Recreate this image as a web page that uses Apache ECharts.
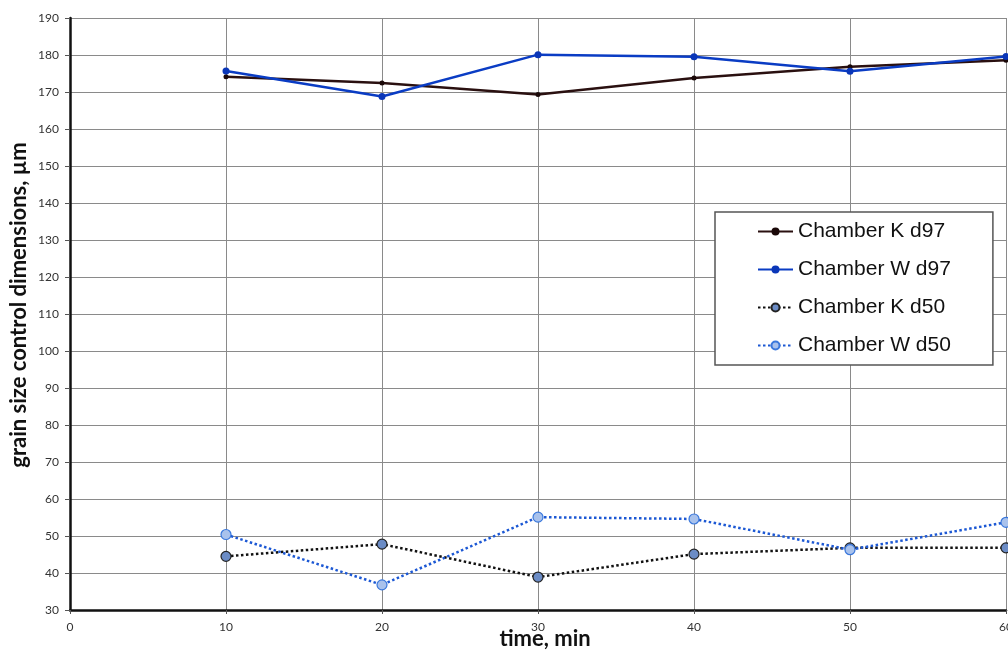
<!DOCTYPE html>
<html>
<head>
<meta charset="utf-8">
<script src="https://cdn.jsdelivr.net/npm/echarts@6/dist/echarts.min.js"></script>
<style>
  html, body { margin: 0; padding: 0; background: #fff; }
  #chart { width: 1008px; height: 650px; }
</style>
</head>
<body>
<div id="chart"></div>
<script>
// time points, min
var times = [10, 20, 30, 40, 50, 60];

// grain size values, µm
var chamberKd97 = [174.1, 172.4, 169.3, 173.8, 176.8, 178.6];
var chamberWd97 = [175.7, 168.8, 180.1, 179.5, 175.6, 179.6];
var chamberKd50 = [44.5, 47.8, 38.9, 45.1, 46.8, 46.8];
var chamberWd50 = [50.4, 36.8, 55.1, 54.6, 46.3, 53.7];

function pairs(vals) {
    return times.map(function (t, i) { return [t, vals[i]]; });
}

var myChart = echarts.init(document.getElementById('chart'));
var labelFont = 'Lato';

var chartOption = {
    animation: false,
    backgroundColor: '#fff',
    grid: {
        left: 70,
        right: 2,
        top: 18,
        bottom: 40,
        containLabel: false,
        outerBoundsMode: 'none'
    },
    legend: {
        orient: 'vertical',
        left: 715,
        top: 212,
        padding: [9, 42, 9, 42],
        itemGap: 17,
        itemWidth: 35,
        itemHeight: 10,
        backgroundColor: '#fff',
        borderColor: '#555',
        borderWidth: 1.5,
        textStyle: {
            fontFamily: 'Liberation Sans',
            fontSize: 21,
            color: '#111'
        },
        data: ['Chamber K d97', 'Chamber W d97', 'Chamber K d50', 'Chamber W d50']
    },
    xAxis: {
        type: 'value',
        min: 0,
        max: 60,
        interval: 10,
        name: 'time, min',
        nameLocation: 'middle',
        nameGap: 18,
        nameMoveOverlap: false,
        nameTextStyle: {
            fontFamily: labelFont,
            fontWeight: 'bold',
            fontSize: 22,
            color: '#111',
            padding: [0, 0, 0, 14]
        },
        axisLine: { lineStyle: { color: '#111', width: 2.5 } },
        axisTick: { show: true, length: 4, lineStyle: { color: '#555' } },
        axisLabel: { fontFamily: labelFont, fontSize: 12, color: '#333', margin: 11 },
        splitLine: { show: true, lineStyle: { color: '#8a8a8a', width: 1 } }
    },
    yAxis: {
        type: 'value',
        min: 30,
        max: 190,
        interval: 10,
        name: 'grain size control dimensions, µm',
        nameLocation: 'middle',
        nameGap: 40,
        nameMoveOverlap: false,
        nameTextStyle: {
            fontFamily: labelFont,
            fontWeight: 'bold',
            fontSize: 22,
            color: '#111',
            padding: [0, 0, 0, 18]
        },
        axisLine: { show: true, lineStyle: { color: '#111', width: 2.5 } },
        axisTick: { show: true, length: 5, lineStyle: { color: '#555' } },
        axisLabel: { fontFamily: labelFont, fontSize: 12, color: '#333', margin: 11 },
        splitLine: { show: true, lineStyle: { color: '#8a8a8a', width: 1 } }
    },
    series: [
        {
            name: 'Chamber K d97',
            type: 'line',
            data: pairs(chamberKd97),
            symbol: 'circle',
            symbolSize: 5,
            itemStyle: { color: '#1a0808' },
            lineStyle: { color: '#2a1010', width: 2.5 }
        },
        {
            name: 'Chamber W d97',
            type: 'line',
            data: pairs(chamberWd97),
            symbol: 'circle',
            symbolSize: 7,
            itemStyle: { color: '#0a36b8' },
            lineStyle: { color: '#0a3cc4', width: 2.5 }
        },
        {
            name: 'Chamber K d50',
            type: 'line',
            data: pairs(chamberKd50),
            symbol: 'circle',
            symbolSize: 10,
            itemStyle: { color: '#6b8cc6', borderColor: '#222', borderWidth: 1.2 },
            lineStyle: { color: '#111', width: 2.5, type: [2.5, 2.5] }
        },
        {
            name: 'Chamber W d50',
            type: 'line',
            data: pairs(chamberWd50),
            symbol: 'circle',
            symbolSize: 10,
            itemStyle: { color: '#a9c2ec', borderColor: '#3a78dc', borderWidth: 1.2 },
            lineStyle: { color: '#1c58d4', width: 2.5, type: [2.5, 2.5] }
        }
    ]
};
myChart.setOption(chartOption);
</script>
</body>
</html>
